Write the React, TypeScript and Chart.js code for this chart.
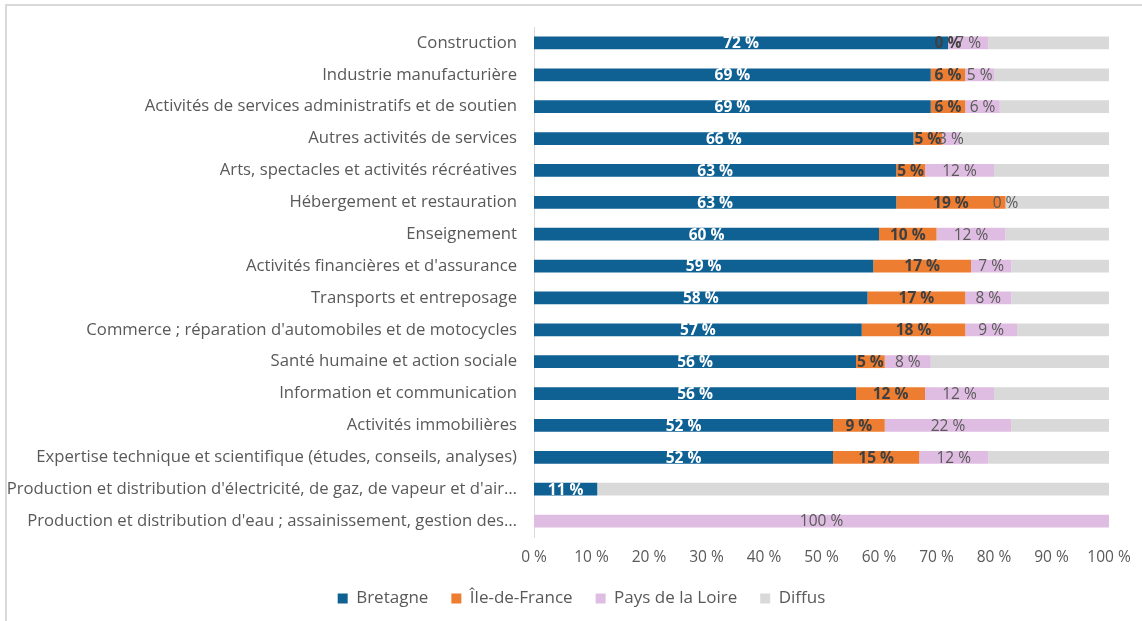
import React, { useEffect, useRef } from "react";
import { Chart, registerables } from "chart.js";

Chart.register(...registerables);

const categories = [
  "Construction",
  "Industrie manufacturière",
  "Activités de services administratifs et de soutien",
  "Autres activités de services",
  "Arts, spectacles et activités récréatives",
  "Hébergement et restauration",
  "Enseignement",
  "Activités financières et d'assurance",
  "Transports et entreposage",
  "Commerce ; réparation d'automobiles et de motocycles",
  "Santé humaine et action sociale",
  "Information et communication",
  "Activités immobilières",
  "Expertise technique et scientifique (études, conseils, analyses)",
  "Production et distribution d'électricité, de gaz, de vapeur et d'air…",
  "Production et distribution d'eau ; assainissement, gestion des…",
];

const bretagne: (number | null)[] = [72, 69, 69, 66, 63, 63, 60, 59, 58, 57, 56, 56, 52, 52, 11, null];
const ileDeFrance: (number | null)[] = [0, 6, 6, 5, 5, 19, 10, 17, 17, 18, 5, 12, 9, 15, null, null];
const paysDeLaLoire: (number | null)[] = [7, 5, 6, 3, 12, 0, 12, 7, 8, 9, 8, 12, 22, 12, null, 100];
const diffus: number[] = categories.map(
  (_, i) => 100 - (bretagne[i] ?? 0) - (ileDeFrance[i] ?? 0) - (paysDeLaLoire[i] ?? 0)
);

const xTicks = [0, 10, 20, 30, 40, 50, 60, 70, 80, 90, 100];

const FONT = "'Open Sans', Lato, sans-serif";

const labelStyles = [
  { color: "#ffffff", weight: "bold", size: 15.5 },
  { color: "#404040", weight: "bold", size: 15.5 },
  { color: "#595959", weight: "normal", size: 15.5 },
  null,
];

const segmentLabels = {
  id: "segmentLabels",
  afterDatasetsDraw(chart: any) {
    const ctx = chart.ctx;
    ctx.save();
    ctx.textAlign = "center";
    ctx.textBaseline = "middle";
    chart.data.datasets.forEach((ds: any, di: number) => {
      const st = labelStyles[di];
      if (!st) return;
      const meta = chart.getDatasetMeta(di);
      meta.data.forEach((el: any, i: number) => {
        const v = ds.data[i];
        if (v === null || v === undefined) return;
        const { x, base, y } = el.getProps(["x", "base", "y"], true);
        ctx.font = `${st.weight} ${st.size}px ${FONT}`;
        ctx.fillStyle = st.color;
        ctx.fillText(`${v} %`, (x + base) / 2, y + 1);
      });
    });
    ctx.restore();
  },
};

const legendShift = {
  id: "legendShift",
  afterLayout(chart: any) {
    if (chart.legend) {
      chart.legend.left += 27;
      chart.legend.right += 27;
    }
  },
};

export default function App() {
  const ref = useRef<HTMLCanvasElement | null>(null);
  useEffect(() => {
    if (!ref.current) return;
    const chart = new Chart(ref.current, {
      type: "bar",
      data: {
        labels: categories,
        datasets: [
          { label: "Bretagne", data: bretagne, backgroundColor: "#0F6194" },
          { label: "Île-de-France", data: ileDeFrance, backgroundColor: "#ED7D31" },
          { label: "Pays de la Loire", data: paysDeLaLoire, backgroundColor: "#DFBDE2" },
          { label: "Diffus", data: diffus, backgroundColor: "#D9D9D9" },
        ],
      },
      options: {
        indexAxis: "y",
        animation: false,
        responsive: true,
        maintainAspectRatio: false,
        datasets: { bar: { categoryPercentage: 1, barPercentage: 0.4 } },
        layout: { padding: { top: 26, right: 33, left: 0, bottom: 4 } },
        scales: {
          x: {
            stacked: true,
            min: 0,
            max: 100,
            afterBuildTicks(scale: any) {
              scale.ticks = xTicks.map((v) => ({ value: v }));
            },
            afterFit(scale: any) {
              scale.height = 30;
            },
            grid: { display: false, drawTicks: false },
            border: { display: false },
            ticks: {
              padding: 11,
              color: "#595959",
              font: { family: FONT, size: 15.5 },
              callback: (v: any) => `${v} %`,
            },
          },
          y: {
            stacked: true,
            afterFit(scale: any) {
              scale.width = 534;
            },
            grid: { display: false, drawTicks: false },
            border: { display: true, color: "#D9D9D9", width: 1 },
            ticks: {
              padding: 17,
              color: "#595959",
              font: { family: FONT, size: 16.7 },
              autoSkip: false,
            },
          },
        },
        plugins: {
          legend: {
            position: "bottom",
            labels: {
              boxWidth: 10,
              boxHeight: 10,
              color: "#595959",
              font: { family: FONT, size: 17 },
              padding: 23,
            },
          },
          tooltip: { enabled: false },
        },
      },
      plugins: [segmentLabels, legendShift],
    });
    return () => chart.destroy();
  }, []);

  return (
    <div
      style={{
        position: "fixed",
        left: 0,
        top: 0,
        width: 1142,
        height: 621,
        background: "#fff",
        overflow: "hidden",
      }}
    >
      <div
        style={{
          position: "absolute",
          left: 5,
          top: 4,
          width: 1160,
          height: 640,
          borderTop: "2px solid #D9D9D9",
          borderLeft: "2px solid #D9D9D9",
        }}
      />
      <div style={{ position: "absolute", left: 0, top: 0, width: 1142, height: 621 }}>
        <canvas ref={ref} />
      </div>
    </div>
  );
}
